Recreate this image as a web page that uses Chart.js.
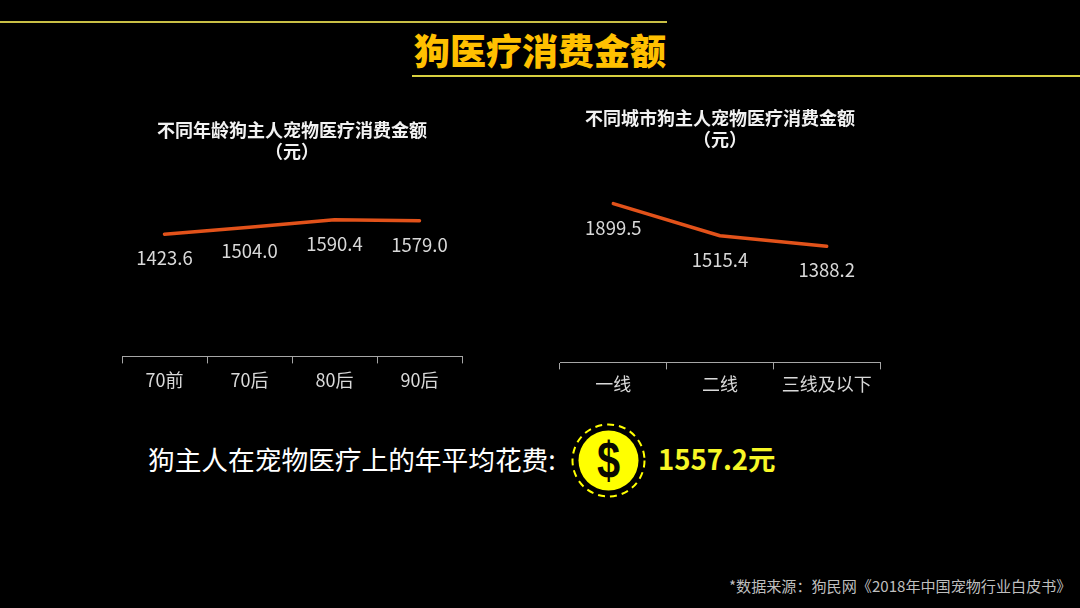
<!DOCTYPE html>
<html lang="zh">
<head>
<meta charset="utf-8">
<title>狗医疗消费金额</title>
<script src="https://cdn.jsdelivr.net/npm/chart.js@4"></script>
<style>
    html, body { margin: 0; padding: 0; background: #000; }
    body { width: 1080px; height: 608px; position: relative; overflow: hidden; font-family: "Noto Sans CJK SC", sans-serif; }
    .abs { position: absolute; white-space: nowrap; }
    canvas { position: absolute; }
    #chartWrapAge { position: absolute; left: 110px; top: 113px; width: 362px; height: 284px; }
    #chartWrapCity { position: absolute; left: 546px; top: 101px; width: 344px; height: 298px; }
</style>
</head>
<body>
<div class="abs" style="left:0;top:21px;width:667px;height:2px;background:#c9bf45"></div>
<div class="abs" style="left:412px;top:75px;width:668px;height:2px;background:#d8d040"></div>
<div class="abs" style="left:414px;top:23px;font-size:36px;line-height:52px;font-weight:900;color:#ffc000">狗医疗消费金额</div>

<div id="chartWrapAge"><canvas id="ageChart"></canvas></div>
<div id="chartWrapCity"><canvas id="cityChart"></canvas></div>

<div class="abs" style="left:148px;top:439px;font-size:26.7px;line-height:40px;color:#fff">狗主人在宠物医疗上的年平均花费:</div>
<svg class="abs" style="left:568px;top:421px" width="81" height="80">
    <circle cx="40.5" cy="39.5" r="30" fill="#ffff00"></circle>
    <circle cx="40.5" cy="39.5" r="36" fill="none" stroke="#ffff00" stroke-width="2" stroke-dasharray="7 5"></circle>
    <text transform="translate(40.5 57) scale(0.8 1)" text-anchor="middle" font-size="52" font-weight="700" font-family="Liberation Sans" fill="#0a0a00">$</text>
</svg>
<div class="abs" style="left:658px;top:438px;font-size:27.5px;line-height:40px;font-weight:700;color:#f7f726">1557.2元</div>
<div class="abs" style="left:729px;top:574px;font-size:15.1px;line-height:22px;color:#bfbfbf">*数据来源：狗民网《2018年中国宠物行业白皮书》</div>

<script>
// Chart data
const ageLabels = ['70前', '70后', '80后', '90后'];
const ageValues = [1423.6, 1504.0, 1590.4, 1579.0];
const ageTitle = ['不同年龄狗主人宠物医疗消费金额', '（元）'];

const cityLabels = ['一线', '二线', '三线及以下'];
const cityValues = [1899.5, 1515.4, 1388.2];
const cityTitle = ['不同城市狗主人宠物医疗消费金额', '（元）'];

const fontFamily = '"Noto Sans CJK SC", sans-serif';

// Draws the value under every point, there is no datalabels plugin here
const valueLabels = {
    id: 'valueLabels',
    afterDatasetsDraw: function(chart) {
        const ctx = chart.ctx;
        const meta = chart.getDatasetMeta(0);
        ctx.save();
        ctx.fillStyle = '#d9d9d9';
        ctx.font = '18.5px ' + fontFamily;
        ctx.textAlign = 'center';
        ctx.textBaseline = 'middle';
        meta.data.forEach((point, i) => {
            ctx.fillText(chart.data.datasets[0].data[i].toFixed(1), point.x, point.y + 24);
        });
        ctx.restore();
    }
};

function renderLineChart(canvasId, labels, values, title, leftPad, titleGap, tickPad) {
    const ctx = document.getElementById(canvasId).getContext('2d');
    return new Chart(ctx, {
        type: 'line',
        data: {
            labels: labels,
            datasets: [{
                data: values,
                borderColor: '#e2521a',
                borderWidth: 3.5,
                borderCapStyle: 'round',
                borderJoinStyle: 'round',
                pointRadius: 0,
                tension: 0
            }]
        },
        options: {
            responsive: true,
            maintainAspectRatio: false,
            animation: false,
            layout: { padding: { left: leftPad, right: 10, top: 0, bottom: 0 } },
            plugins: {
                legend: { display: false },
                tooltip: { enabled: false },
                title: {
                    display: true,
                    text: title,
                    color: '#f2f2f2',
                    font: { family: fontFamily, size: 18, weight: 'bold', lineHeight: 1.2 },
                    padding: { top: 6, bottom: titleGap }
                }
            },
            scales: {
                x: {
                    offset: true,
                    border: { color: '#a6a6a6', width: 1 },
                    grid: { display: true, drawOnChartArea: false, color: '#a6a6a6', tickLength: 7, offset: true },
                    ticks: { color: '#d9d9d9', font: { family: fontFamily, size: 18 }, padding: tickPad, maxRotation: 0 }
                },
                y: { display: false, min: 0, max: 2000 }
            }
        },
        plugins: [valueLabels]
    });
}

renderLineChart('ageChart', ageLabels, ageValues, ageTitle, 12, 22.5, 6);
renderLineChart('cityChart', cityLabels, cityValues, cityTitle, 14, 45, 4);
</script>
</body>
</html>
